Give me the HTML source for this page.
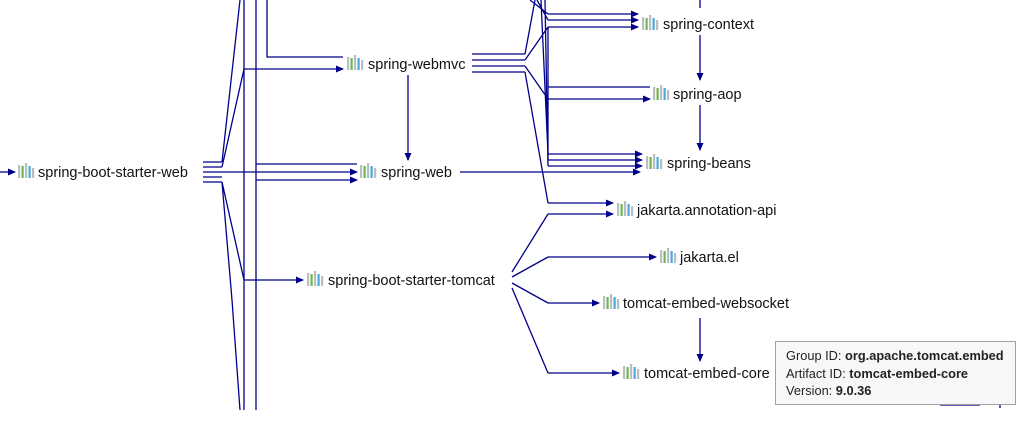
<!DOCTYPE html>
<html><head><meta charset="utf-8"><style>
body{margin:0;background:#fff;width:1030px;height:428px;overflow:hidden;position:relative;font-family:"Liberation Sans",sans-serif}
svg{position:absolute;left:0;top:0}
.t{font-size:14.5px;fill:#111;font-family:"Liberation Sans",sans-serif}
.tip{position:absolute;left:775px;top:341px;width:241px;height:64px;background:#f7f7f7;border:1px solid #a0a0a0;box-sizing:border-box;font-size:12.8px;color:#222;padding:5px 0 0 10px;line-height:17.5px}
</style></head><body>
<svg width="1030" height="428" viewBox="0 0 1030 428">
<defs>
<marker id="a" markerWidth="8" markerHeight="8" refX="7" refY="4" orient="auto" markerUnits="userSpaceOnUse"><path d="M0,0.5 L8,4 L0,7.5z" fill="#00008b"/></marker>
<g id="ic"><rect x="0" y="0" width="2.2" height="13" fill="#b9bec4"/><rect x="3.5" y="1" width="2.2" height="12" fill="#6fb64a"/><rect x="7" y="-2" width="2.2" height="15" fill="#b9bec4"/><rect x="10.5" y="1" width="2.2" height="12" fill="#4aa8dc"/><rect x="14" y="3" width="2.2" height="10" fill="#b9bec4"/></g>
</defs>
<g stroke="#00008b" stroke-width="1.3" fill="none">
<line x1="0" y1="172" x2="15" y2="172" marker-end="url(#a)"/>
<path d="M203 162H222M203 167H222M203 172H222M203 177H222M203 182H222"/>
<path d="M222 162L240 0M222 167L244 69M222 182L244 280M222 182L232 300L240 410"/>
<path d="M244 0V410M256 0V410M267 0V57H343"/>
<line x1="244" y1="69" x2="343" y2="69" marker-end="url(#a)"/>
<line x1="244" y1="280" x2="303" y2="280" marker-end="url(#a)"/>
<path d="M256 164H357"/>
<line x1="222" y1="172" x2="357" y2="172" marker-end="url(#a)"/>
<path d="M256 180H357" marker-end="url(#a)"/>
<line x1="408" y1="75" x2="408" y2="160" marker-end="url(#a)"/>
<line x1="460" y1="172" x2="640" y2="172" marker-end="url(#a)"/>
<path d="M472 54H525M472 60H525M472 66H525M472 72H525"/>
<path d="M525 54L535 0M525 60L548 27M525 66L548 99M525 72L548 203M530 0L548 14M537 0L548 20M541 0L548 154M545 0L548 166"/>
<path d="M548 27V160"/>
<line x1="548" y1="14" x2="638" y2="14" marker-end="url(#a)"/>
<line x1="548" y1="20" x2="638" y2="20" marker-end="url(#a)"/>
<line x1="548" y1="27" x2="638" y2="27" marker-end="url(#a)"/>
<path d="M548 87H650"/>
<line x1="548" y1="99" x2="650" y2="99" marker-end="url(#a)"/>
<line x1="548" y1="154" x2="642" y2="154" marker-end="url(#a)"/>
<line x1="548" y1="160" x2="642" y2="160" marker-end="url(#a)"/>
<line x1="548" y1="166" x2="642" y2="166" marker-end="url(#a)"/>
<line x1="548" y1="203" x2="613" y2="203" marker-end="url(#a)"/>
<line x1="700" y1="0" x2="700" y2="8"/>
<line x1="700" y1="35" x2="700" y2="80" marker-end="url(#a)"/>
<line x1="700" y1="105" x2="700" y2="150" marker-end="url(#a)"/>
<path d="M512 272L548 214M512 277L548 257M512 283L548 303M512 288L548 373"/>
<line x1="548" y1="214" x2="613" y2="214" marker-end="url(#a)"/>
<line x1="548" y1="257" x2="656" y2="257" marker-end="url(#a)"/>
<line x1="548" y1="303" x2="599" y2="303" marker-end="url(#a)"/>
<line x1="548" y1="373" x2="619" y2="373" marker-end="url(#a)"/>
<line x1="700" y1="318" x2="700" y2="361" marker-end="url(#a)"/>
<path d="M940 405H980M1000 402V408"/>
</g>
<use href="#ic" x="18" y="165"/><text class="t" x="38" y="177">spring-boot-starter-web</text>
<use href="#ic" x="347" y="57"/><text class="t" x="368" y="69">spring-webmvc</text>
<use href="#ic" x="360" y="165"/><text class="t" x="381" y="177">spring-web</text>
<use href="#ic" x="307" y="273"/><text class="t" x="328" y="285">spring-boot-starter-tomcat</text>
<use href="#ic" x="642" y="17"/><text class="t" x="663" y="29">spring-context</text>
<use href="#ic" x="653" y="87"/><text class="t" x="673" y="99">spring-aop</text>
<use href="#ic" x="646" y="156"/><text class="t" x="667" y="168">spring-beans</text>
<use href="#ic" x="617" y="203"/><text class="t" x="637" y="215">jakarta.annotation-api</text>
<use href="#ic" x="660" y="250"/><text class="t" x="680" y="262">jakarta.el</text>
<use href="#ic" x="603" y="296"/><text class="t" x="623" y="308">tomcat-embed-websocket</text>
<use href="#ic" x="623" y="366"/><text class="t" x="644" y="378">tomcat-embed-core</text>
</svg>
<div class="tip">Group ID: <b>org.apache.tomcat.embed</b><br>Artifact ID: <b>tomcat-embed-core</b><br>Version: <b>9.0.36</b></div>
</body></html>
